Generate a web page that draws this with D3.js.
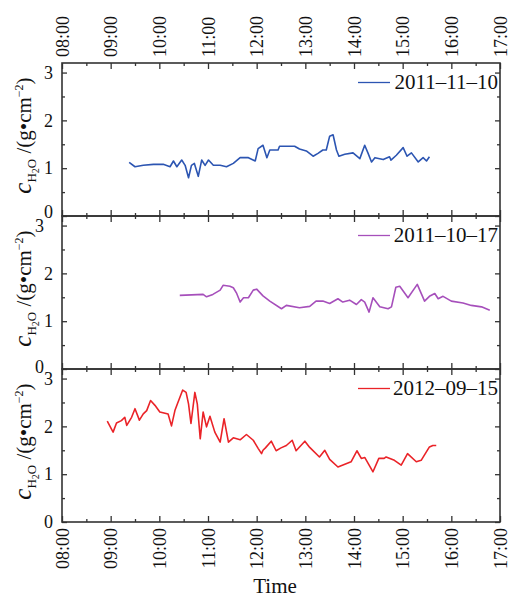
<!doctype html>
<html>
<head>
<meta charset="utf-8">
<script src="https://cdn.jsdelivr.net/npm/d3@7"></script>
<style>
  body { margin: 0; background: #fff; }
  svg text { font-family: "Liberation Serif", "Times New Roman", serif; fill: #111; }
  .frame { fill: none; stroke: #333; stroke-width: 1.6; }
  .tick line { stroke: #333; stroke-width: 1.3; }
</style>
</head>
<body>
<svg id="chart" width="526" height="600"></svg>
<script>
  // time ticks (hours) and their labels
  var hourTicks = [8, 9, 10, 11, 12, 13, 14, 15, 16, 17];
  var hourLabels = ["08:00", "09:00", "10:00", "11:00", "12:00", "13:00", "14:00", "15:00", "16:00", "17:00"];
  var yTicks = [0, 1, 2, 3];
  var seriesNames = ["2011\u201311\u201310", "2011\u201310\u201317", "2012\u201309\u201315"];

  // [hour, c_H2O]
  var nov10 = [[9.38,1.12],[9.50,1.03],[9.67,1.06],[9.88,1.08],[10.08,1.08],[10.22,1.03],[10.29,1.15],[10.36,1.03],
    [10.46,1.17],[10.53,1.06],[10.60,0.80],[10.66,1.06],[10.72,1.10],[10.80,0.83],[10.87,1.17],[10.94,1.06],
    [11.01,1.17],[11.11,1.06],[11.25,1.06],[11.38,1.03],[11.52,1.10],[11.66,1.22],[11.83,1.22],[11.97,1.15],
    [12.03,1.41],[12.13,1.48],[12.21,1.22],[12.27,1.38],[12.44,1.38],[12.47,1.46],[12.78,1.46],[12.88,1.40],
    [13.02,1.36],[13.16,1.25],[13.26,1.31],[13.36,1.38],[13.43,1.38],[13.50,1.67],[13.57,1.70],[13.64,1.38],
    [13.69,1.25],[13.81,1.29],[13.98,1.32],[14.12,1.20],[14.22,1.48],[14.29,1.31],[14.36,1.13],[14.43,1.22],
    [14.60,1.18],[14.73,1.24],[14.76,1.17],[14.87,1.27],[15.01,1.43],[15.09,1.25],[15.18,1.32],[15.32,1.13],
    [15.42,1.22],[15.49,1.15],[15.55,1.24]];

  var oct17 = [[10.42,1.54],[10.90,1.56],[10.97,1.51],[11.10,1.56],[11.25,1.65],[11.31,1.75],[11.45,1.73],[11.52,1.70],
    [11.59,1.58],[11.66,1.40],[11.73,1.49],[11.83,1.49],[11.93,1.65],[12.00,1.67],[12.13,1.53],[12.27,1.42],
    [12.51,1.26],[12.61,1.33],[12.88,1.28],[13.09,1.31],[13.22,1.42],[13.36,1.42],[13.50,1.37],[13.67,1.47],
    [13.77,1.40],[13.91,1.44],[14.05,1.35],[14.15,1.45],[14.22,1.40],[14.31,1.19],[14.39,1.49],[14.53,1.30],
    [14.70,1.26],[14.77,1.30],[14.86,1.71],[14.94,1.73],[15.11,1.49],[15.30,1.77],[15.45,1.42],[15.55,1.52],
    [15.66,1.58],[15.73,1.47],[15.83,1.52],[16.00,1.42],[16.24,1.38],[16.41,1.33],[16.62,1.30],[16.79,1.23]];

  var sep15 = [[8.93,2.11],[9.05,1.88],[9.12,2.07],[9.22,2.12],[9.29,2.19],[9.33,2.02],[9.43,2.19],[9.50,2.37],
    [9.59,2.13],[9.67,2.26],[9.74,2.33],[9.82,2.54],[9.91,2.44],[10.01,2.30],[10.18,2.26],[10.25,2.01],
    [10.32,2.33],[10.37,2.47],[10.48,2.76],[10.55,2.71],[10.60,2.47],[10.65,2.06],[10.73,2.71],[10.78,2.47],
    [10.84,1.74],[10.90,2.30],[10.97,1.99],[11.04,2.21],[11.14,1.88],[11.25,1.67],[11.33,2.16],[11.42,1.67],
    [11.52,1.76],[11.66,1.72],[11.79,1.83],[11.93,1.71],[12.03,1.54],[12.10,1.43],[12.13,1.50],[12.18,1.55],
    [12.30,1.69],[12.40,1.49],[12.50,1.55],[12.61,1.60],[12.73,1.71],[12.81,1.49],[12.99,1.69],[13.09,1.56],
    [13.29,1.36],[13.40,1.50],[13.50,1.31],[13.67,1.15],[13.94,1.26],[14.06,1.49],[14.15,1.33],[14.22,1.35],
    [14.39,1.05],[14.51,1.33],[14.62,1.33],[14.66,1.36],[14.83,1.29],[14.97,1.19],[15.10,1.43],[15.28,1.26],
    [15.38,1.29],[15.55,1.57],[15.62,1.60],[15.69,1.60]];

  var seriesData = [nov10, oct17, sep15];
  var seriesColors = ["#2c55b2", "#a64fbb", "#ea2328"];

  var svg = d3.select("#chart");
  var left = 62, right = 500, panelH = 153;
  var panelTops = [63, 216, 369];

  var x = d3.scaleLinear().domain([8, 17]).range([left, right]);
  var halfHours = d3.range(8.5, 17, 1);

  panelTops.forEach(function (top, i) {
    var y = d3.scaleLinear().domain([0, 3.2]).range([top + panelH, top]);
    var g = svg.append("g");

    // bottom ticks (inward)
    var bot = g.append("g").attr("transform", "translate(0," + (top + panelH) + ")");
    bot.call(d3.axisBottom(x).tickValues(hourTicks).tickSize(-6).tickFormat(""));
    bot.append("g").call(d3.axisBottom(x).tickValues(halfHours).tickSize(-3).tickFormat(""));
    // top ticks (inward)
    var topAx = g.append("g").attr("transform", "translate(0," + top + ")");
    topAx.call(d3.axisTop(x).tickValues(hourTicks).tickSize(-6).tickFormat(""));
    topAx.append("g").call(d3.axisTop(x).tickValues(halfHours).tickSize(-3).tickFormat(""));
    // left / right ticks
    var lAx = g.append("g").attr("transform", "translate(" + left + ",0)");
    lAx.call(d3.axisLeft(y).tickValues(yTicks).tickSize(-5).tickPadding(9).tickFormat(d3.format("d")));
    lAx.append("g").call(d3.axisLeft(y).tickValues([0.5, 1.5, 2.5]).tickSize(-3).tickFormat(""));
    var rAx = g.append("g").attr("transform", "translate(" + right + ",0)");
    rAx.call(d3.axisRight(y).tickValues(yTicks).tickSize(-5).tickFormat(""));
    rAx.append("g").call(d3.axisRight(y).tickValues([0.5, 1.5, 2.5]).tickSize(-3).tickFormat(""));

    g.selectAll(".domain").remove();
    lAx.selectAll("text").attr("font-size", 18).style("font-family", "Liberation Serif");

    // the "0" and "3" labels where panels meet sit side by side, as in the source figure
    if (i === 0) {
      lAx.selectAll(".tick").filter(function (d) { return d === 0; }).select("text").attr("dy", "0.1em");
    }
    if (i === 1) {
      lAx.selectAll(".tick").filter(function (d) { return d === 3; }).select("text").attr("x", -18);
      lAx.selectAll(".tick").filter(function (d) { return d === 0; }).select("text").attr("x", -18).attr("dy", "0.2em");
    }

    // rotated time labels: above the first panel, below the last
    if (i === 0) {
      var tl = g.append("g").attr("transform", "translate(0," + top + ")")
        .call(d3.axisTop(x).tickValues(hourTicks).tickSize(0)
          .tickFormat(function (d, k) { return hourLabels[k]; }));
      tl.select(".domain").remove();
      tl.selectAll("text").attr("font-size", 18).style("font-family", "Liberation Serif")
        .attr("transform", "rotate(-90)").attr("x", 6).attr("y", 0)
        .attr("dy", "0.35em").attr("text-anchor", "start");
    }
    if (i === panelTops.length - 1) {
      var bl = g.append("g").attr("transform", "translate(0," + (top + panelH) + ")")
        .call(d3.axisBottom(x).tickValues(hourTicks).tickSize(0)
          .tickFormat(function (d, k) { return hourLabels[k]; }));
      bl.select(".domain").remove();
      bl.selectAll("text").attr("font-size", 18).style("font-family", "Liberation Serif")
        .attr("transform", "rotate(-90)").attr("x", -6).attr("y", 0)
        .attr("dy", "0.35em").attr("text-anchor", "end");
    }

    // data line
    var line = d3.line().x(function (d) { return x(d[0]); }).y(function (d) { return y(d[1]); });
    g.append("path").datum(seriesData[i]).attr("d", line)
      .attr("fill", "none").attr("stroke", seriesColors[i]).attr("stroke-width", 1.6)
      .attr("stroke-linejoin", "round");

    // frame
    g.append("rect").attr("class", "frame")
      .attr("x", left).attr("y", top).attr("width", right - left).attr("height", panelH);

    // legend
    g.append("line").attr("x1", 358).attr("x2", 390)
      .attr("y1", top + 19.5).attr("y2", top + 19.5)
      .attr("stroke", seriesColors[i]).attr("stroke-width", 1.3);
    g.append("text").attr("x", 498).attr("y", top + 26).attr("text-anchor", "end")
      .attr("font-size", 21).text(seriesNames[i]);

    // y label
    var lab = g.append("text").attr("text-anchor", "middle")
      .attr("transform", "translate(31," + (top + panelH / 2 - 4) + ") rotate(-90)");
    lab.append("tspan").attr("font-style", "italic").attr("font-size", 25).text("c");
    lab.append("tspan").attr("font-size", 13).attr("dy", 5).text("H");
    lab.append("tspan").attr("font-size", 10).attr("dy", 3).text("2");
    lab.append("tspan").attr("font-size", 13).attr("dy", -3).text("O");
    lab.append("tspan").attr("font-size", 21).attr("dy", -5).text("\u00a0/(g\u2022cm");
    lab.append("tspan").attr("font-size", 12).attr("dy", -8).text("\u22122");
    lab.append("tspan").attr("font-size", 21).attr("dy", 8).text(")");
  });

  svg.append("text").attr("x", 275).attr("y", 593).attr("text-anchor", "middle")
    .attr("font-size", 21).text("Time");
</script>
</body>
</html>
